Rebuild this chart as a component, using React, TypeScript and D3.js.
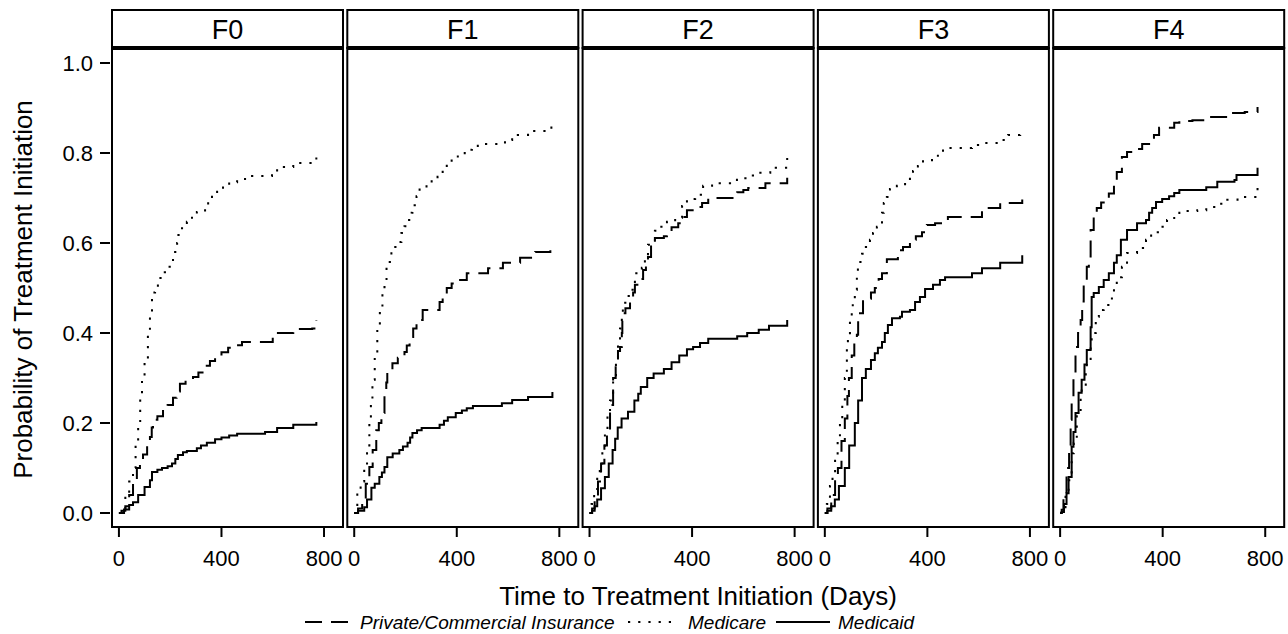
import React from "react";
import * as d3 from "d3";

type Pt = [number, number];

const panels = ["F0", "F1", "F2", "F3", "F4"];
const xTicks = [0, 400, 800];
const yTicks = [0, 0.2, 0.4, 0.6, 0.8, 1.0];
const seriesNames = ["Private/Commercial Insurance", "Medicare", "Medicaid"];

const f0Private: Pt[] = [[0,0],[10,0.005],[25,0.015],[40,0.04],[55,0.067],[70,0.1],[82,0.115],[94,0.13],[110,0.15],[121,0.169],[128,0.19],[133,0.207],[150,0.215],[172,0.229],[190,0.24],[211,0.256],[225,0.27],[238,0.287],[260,0.295],[289,0.302],[310,0.312],[336,0.327],[355,0.338],[375,0.347],[400,0.357],[426,0.367],[450,0.373],[480,0.38],[600,0.4],[680,0.409],[754,0.41],[770,0.429]];
const f0Medicare: Pt[] = [[0,0],[10,0.01],[25,0.04],[40,0.07],[55,0.1],[65,0.15],[75,0.2],[83,0.25],[90,0.296],[100,0.34],[113,0.4],[121,0.45],[129,0.49],[141,0.502],[152,0.522],[170,0.535],[187,0.547],[207,0.562],[211,0.58],[227,0.6],[232,0.618],[246,0.633],[265,0.647],[285,0.66],[304,0.669],[336,0.678],[348,0.691],[363,0.707],[383,0.72],[406,0.727],[430,0.735],[461,0.742],[492,0.749],[597,0.758],[617,0.769],[680,0.778],[758,0.78],[770,0.798]];
const f0Medicaid: Pt[] = [[0,0],[4,0],[20,0.008],[40,0.018],[55,0.024],[75,0.04],[100,0.058],[121,0.073],[129,0.091],[150,0.096],[168,0.1],[190,0.104],[207,0.11],[220,0.12],[230,0.129],[250,0.135],[265,0.138],[304,0.144],[320,0.15],[343,0.156],[375,0.164],[400,0.168],[430,0.172],[461,0.176],[570,0.18],[617,0.189],[680,0.196],[770,0.202]];

const f1Private: Pt[] = [[0,0],[15,0.01],[31,0.029],[45,0.065],[59,0.102],[72,0.14],[86,0.184],[96,0.2],[106,0.222],[118,0.262],[125,0.29],[129,0.311],[149,0.333],[170,0.345],[196,0.358],[205,0.372],[216,0.391],[230,0.41],[243,0.429],[267,0.451],[333,0.469],[345,0.485],[361,0.5],[380,0.51],[404,0.518],[439,0.533],[522,0.544],[580,0.556],[647,0.567],[706,0.58],[765,0.6]];
const f1Medicare: Pt[] = [[0,0],[12,0.044],[25,0.07],[39,0.1],[50,0.15],[59,0.207],[65,0.25],[71,0.296],[80,0.35],[90,0.413],[100,0.45],[110,0.489],[118,0.502],[126,0.558],[145,0.591],[169,0.602],[184,0.622],[196,0.637],[208,0.651],[224,0.667],[227,0.684],[243,0.704],[255,0.722],[282,0.729],[302,0.74],[325,0.747],[345,0.762],[361,0.778],[380,0.789],[404,0.796],[431,0.807],[459,0.813],[482,0.82],[588,0.829],[616,0.84],[678,0.849],[757,0.851],[769,0.867]];
const f1Medicaid: Pt[] = [[0,0],[15,0.005],[39,0.013],[50,0.03],[67,0.056],[80,0.065],[98,0.08],[108,0.09],[118,0.102],[129,0.124],[150,0.132],[176,0.14],[190,0.148],[208,0.156],[218,0.168],[227,0.178],[245,0.184],[263,0.189],[333,0.196],[350,0.205],[365,0.213],[396,0.222],[420,0.228],[439,0.233],[463,0.238],[576,0.244],[616,0.251],[678,0.258],[773,0.269]];

const f2Private: Pt[] = [[0,0],[10,0.01],[20,0.03],[33,0.07],[45,0.11],[58,0.15],[68,0.18],[80,0.24],[92,0.3],[102,0.33],[111,0.36],[119,0.369],[126,0.4],[128,0.444],[140,0.455],[158,0.473],[170,0.49],[177,0.507],[195,0.52],[209,0.54],[220,0.555],[228,0.569],[240,0.6],[255,0.611],[290,0.615],[302,0.624],[320,0.635],[346,0.644],[361,0.658],[380,0.673],[410,0.68],[439,0.689],[463,0.7],[576,0.713],[600,0.718],[619,0.722],[686,0.733],[771,0.745]];
const f2Medicare: Pt[] = [[0,0],[8,0.02],[18,0.05],[30,0.08],[40,0.1],[50,0.14],[60,0.18],[70,0.22],[80,0.25],[92,0.3],[103,0.34],[111,0.384],[119,0.41],[126,0.444],[130,0.467],[146,0.482],[158,0.496],[177,0.533],[204,0.545],[216,0.562],[228,0.596],[255,0.627],[275,0.636],[302,0.647],[334,0.656],[361,0.682],[380,0.698],[412,0.707],[443,0.727],[478,0.733],[575,0.744],[615,0.75],[650,0.756],[705,0.767],[771,0.789]];
const f2Medicaid: Pt[] = [[0,0],[10,0.005],[20,0.015],[30,0.03],[45,0.055],[60,0.08],[75,0.11],[90,0.14],[100,0.165],[110,0.19],[125,0.21],[150,0.225],[175,0.25],[190,0.265],[200,0.28],[225,0.3],[250,0.31],[290,0.32],[320,0.335],[350,0.35],[380,0.364],[404,0.369],[431,0.378],[463,0.387],[576,0.393],[615,0.4],[660,0.407],[700,0.416],[771,0.429]];

const f3Private: Pt[] = [[0,0],[10,0.01],[25,0.04],[40,0.08],[51,0.1],[65,0.16],[78,0.21],[88,0.26],[94,0.3],[105,0.35],[115,0.38],[125,0.396],[130,0.444],[149,0.473],[168,0.476],[180,0.49],[195,0.5],[210,0.52],[223,0.533],[242,0.564],[285,0.584],[305,0.591],[332,0.607],[355,0.615],[379,0.624],[398,0.64],[430,0.644],[480,0.658],[613,0.678],[684,0.689],[770,0.7]];
const f3Medicare: Pt[] = [[0,0],[8,0.02],[20,0.06],[30,0.09],[40,0.12],[50,0.16],[59,0.2],[68,0.25],[78,0.3],[86,0.369],[90,0.396],[98,0.433],[105,0.456],[109,0.473],[117,0.496],[125,0.536],[129,0.558],[145,0.576],[156,0.591],[176,0.607],[188,0.622],[203,0.636],[223,0.667],[230,0.689],[242,0.702],[254,0.72],[281,0.727],[313,0.74],[332,0.747],[344,0.76],[363,0.771],[383,0.784],[418,0.791],[441,0.8],[461,0.811],[574,0.818],[613,0.822],[676,0.829],[715,0.84],[762,0.844],[770,0.851]];
const f3Medicaid: Pt[] = [[0,0],[10,0.005],[25,0.015],[39,0.03],[55,0.06],[78,0.1],[95,0.15],[117,0.2],[130,0.25],[145,0.3],[160,0.32],[180,0.34],[195,0.355],[207,0.367],[223,0.38],[234,0.4],[246,0.418],[262,0.433],[293,0.436],[301,0.447],[332,0.451],[352,0.469],[371,0.48],[391,0.498],[422,0.507],[449,0.518],[469,0.524],[574,0.533],[613,0.544],[684,0.556],[770,0.573]];

const f4Private: Pt[] = [[0,0],[6,0.007],[13,0.044],[25,0.1],[35,0.15],[41,0.207],[45,0.258],[52,0.31],[60,0.369],[70,0.4],[80,0.429],[86,0.47],[92,0.518],[104,0.547],[112,0.57],[119,0.629],[131,0.667],[143,0.678],[160,0.69],[170,0.696],[190,0.71],[210,0.729],[221,0.758],[241,0.791],[261,0.802],[300,0.809],[320,0.82],[347,0.829],[366,0.84],[386,0.856],[445,0.867],[465,0.871],[516,0.873],[582,0.88],[661,0.889],[720,0.891],[770,0.902]];
const f4Medicare: Pt[] = [[0,0],[10,0.01],[21,0.036],[33,0.073],[45,0.133],[53,0.156],[65,0.222],[80,0.258],[84,0.278],[100,0.313],[104,0.34],[119,0.378],[123,0.4],[139,0.436],[151,0.451],[170,0.462],[202,0.489],[210,0.502],[221,0.524],[241,0.547],[261,0.578],[300,0.589],[335,0.607],[355,0.624],[386,0.636],[417,0.651],[445,0.658],[465,0.671],[535,0.673],[570,0.68],[609,0.687],[648,0.696],[692,0.702],[770,0.724]];
const f4Medicaid: Pt[] = [[0,0],[6,0.002],[15,0.02],[25,0.044],[33,0.08],[45,0.147],[52,0.18],[60,0.222],[72,0.267],[84,0.296],[95,0.33],[104,0.362],[119,0.413],[123,0.48],[131,0.489],[151,0.502],[170,0.518],[190,0.533],[210,0.556],[221,0.573],[237,0.607],[261,0.629],[300,0.644],[335,0.651],[347,0.667],[359,0.678],[374,0.691],[398,0.698],[425,0.704],[445,0.711],[465,0.718],[570,0.724],[613,0.736],[680,0.74],[688,0.751],[770,0.767]];

const panelData: Pt[][][] = [
  [f0Private, f0Medicare, f0Medicaid],
  [f1Private, f1Medicare, f1Medicaid],
  [f2Private, f2Medicare, f2Medicaid],
  [f3Private, f3Medicare, f3Medicaid],
  [f4Private, f4Medicare, f4Medicaid],
];

const FONT = "'Liberation Sans', Arial, Helvetica, sans-serif";
const dashes = ["17 9", "2.2 8", "none"];

export default function App() {
  const W = 1288, H = 634;
  const firstLeft = 112, panelW = 231, step = 235.3;
  const headTop = 10, plotTop = 48, plotBottom = 527;
  const y = d3.scaleLinear().domain([-0.0311, 1.0333]).range([plotBottom, plotTop]);
  const line = d3.line<Pt>().curve(d3.curveStepAfter);

  return (
    <svg width={W} height={H} style={{ position: "absolute", left: 0, top: 0, background: "#fff" }} fontFamily={FONT}>
      <rect x={0} y={0} width={W} height={H} fill="#fff" />
      {yTicks.map((t) => (
        <g key={"yt" + t}>
          <line x1={100} x2={110} y1={y(t)} y2={y(t)} stroke="#000" strokeWidth={2} />
          <text x={93} y={y(t) + 8} fontSize={22} textAnchor="end" fill="#000">{t.toFixed(1)}</text>
        </g>
      ))}
      <text transform={`translate(32,${(plotTop + plotBottom) / 2 + 2}) rotate(-90)`} fontSize={26} textAnchor="middle" fill="#000">
        Probability of Treatment Initiation
      </text>
      {panels.map((p, i) => {
        const left = firstLeft + i * step;
        const x = d3.scaleLinear().domain([-27, 874]).range([left, left + panelW]);
        return (
          <g key={p}>
            <rect x={left} y={headTop} width={panelW} height={plotTop - headTop} fill="#fff" stroke="#000" strokeWidth={2} />
            <text x={left + panelW / 2} y={38.5} fontSize={27} textAnchor="middle" fill="#000">{p}</text>
            <rect x={left} y={plotTop} width={panelW} height={plotBottom - plotTop} fill="#fff" stroke="#000" strokeWidth={2} />
            <line x1={left} x2={left + panelW} y1={plotTop} y2={plotTop} stroke="#000" strokeWidth={4} />
            {panelData[i].map((s, k) => (
              <path key={k} d={line(s.map((d) => [x(d[0]), y(d[1])]) as Pt[]) || ""} fill="none" stroke="#000"
                strokeWidth={2} strokeDasharray={dashes[k]} />
            ))}
            {xTicks.map((t) => (
              <g key={"xt" + t}>
                <line x1={x(t)} x2={x(t)} y1={plotBottom} y2={plotBottom + 10} stroke="#000" strokeWidth={2} />
                <text x={x(t)} y={566} fontSize={22} textAnchor="middle" fill="#000">{t}</text>
              </g>
            ))}
          </g>
        );
      })}
      <text x={firstLeft + (4 * step + panelW) / 2} y={605} fontSize={26} textAnchor="middle" fill="#000">
        Time to Treatment Initiation (Days)
      </text>
      <g>
        <line x1={305} x2={350} y1={622} y2={622} stroke="#000" strokeWidth={2} strokeDasharray={dashes[0]} />
        <text x={360} y={629} fontSize={19} fontStyle="italic" fill="#000">{seriesNames[0]}</text>
        <line x1={628} x2={678} y1={622} y2={622} stroke="#000" strokeWidth={2} strokeDasharray={dashes[1]} />
        <text x={688} y={629} fontSize={19} fontStyle="italic" fill="#000">{seriesNames[1]}</text>
        <line x1={776} x2={830} y1={622} y2={622} stroke="#000" strokeWidth={2} />
        <text x={838} y={629} fontSize={19} fontStyle="italic" fill="#000">{seriesNames[2]}</text>
      </g>
    </svg>
  );
}
